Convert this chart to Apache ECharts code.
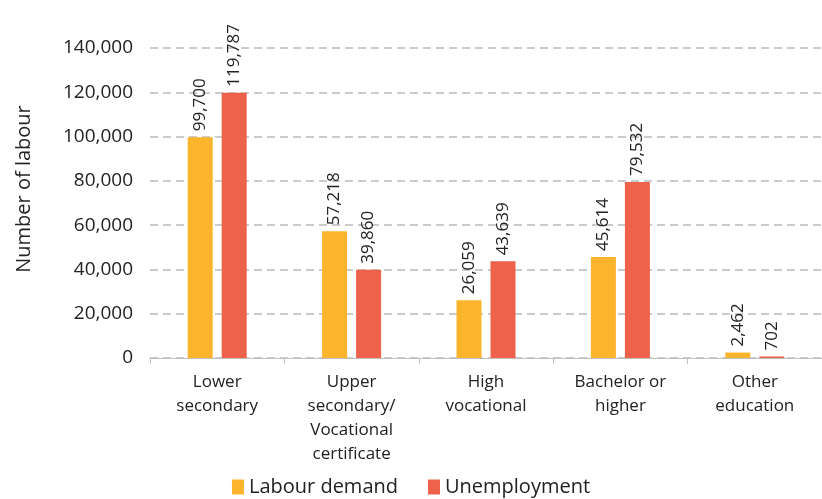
<!DOCTYPE html>
<html>
<head>
<meta charset="utf-8">
<script src="https://cdn.jsdelivr.net/npm/echarts@6/dist/echarts.min.js"></script>
<style>
  html, body { margin: 0; padding: 0; background: #fff; }
  #chart { width: 822px; height: 499px; }
</style>
</head>
<body>
<div id="chart"></div>
<script>
var categories = ['Lower\nsecondary', 'Upper\nsecondary/\nVocational\ncertificate', 'High\nvocational', 'Bachelor or\nhigher', 'Other\neducation']
var labourDemand = [99700, 57218, 26059, 45614, 2462]
var unemployment = [119787, 39860, 43639, 79532, 702]
var yTicks = [0, 20000, 40000, 60000, 80000, 100000, 120000, 140000]

var myChart = echarts.init(document.getElementById('chart'))

var fontFamily = '"Open Sans", "Noto Sans", sans-serif'

function fmt(v) {
  return v.toLocaleString('en-US')
}

var valueLabel = {
  show: true,
  position: 'top',
  rotate: 90,
  align: 'left',
  verticalAlign: 'middle',
  distance: 6,
  color: '#222',
  fontSize: 17,
  fontFamily: fontFamily,
  formatter: function (p) { return fmt(p.value) }
}

var option = {
  animation: false,
  grid: { left: 150, right: 0, top: 48, bottom: 141 },
  legend: {
    bottom: -3,
    left: 'center',
    icon: 'rect',
    itemWidth: 12,
    itemHeight: 15,
    itemGap: 30,
    itemTextGap: 6,
    textStyle: { fontSize: 20, color: '#222', fontFamily: fontFamily },
    data: ['Labour demand', 'Unemployment']
  },
  xAxis: {
    type: 'category',
    data: categories,
    axisLine: { lineStyle: { color: '#bfbfbf' } },
    axisTick: { show: true, lineStyle: { color: '#bfbfbf' }, length: 6 },
    axisLabel: {
      color: '#222',
      fontSize: 17,
      lineHeight: 24,
      margin: 12,
      fontFamily: fontFamily,
      interval: 0
    }
  },
  yAxis: {
    type: 'value',
    min: 0,
    max: 140000,
    interval: 20000,
    name: 'Number of labour',
    nameLocation: 'middle',
    nameGap: 116,
    nameTextStyle: { fontSize: 20, color: '#222', fontFamily: fontFamily, padding: [0, 0, 0, 28] },
    axisLine: { show: false },
    axisTick: { show: false },
    axisLabel: {
      color: '#222',
      fontSize: 19,
      margin: 17,
      fontFamily: fontFamily,
      formatter: function (v) { return yTicks.indexOf(v) >= 0 ? fmt(v) : '' }
    },
    splitLine: { lineStyle: { color: '#bbbbbb', type: [8, 5], width: 1.5 } }
  },
  series: [
    {
      name: 'Labour demand',
      type: 'bar',
      data: labourDemand,
      barWidth: 25,
      barGap: '36%',
      itemStyle: { color: '#FBB42B' },
      label: valueLabel
    },
    {
      name: 'Unemployment',
      type: 'bar',
      data: unemployment,
      barWidth: 25,
      itemStyle: { color: '#EE624B' },
      label: valueLabel
    }
  ]
}

myChart.setOption(option)
</script>
</body>
</html>
